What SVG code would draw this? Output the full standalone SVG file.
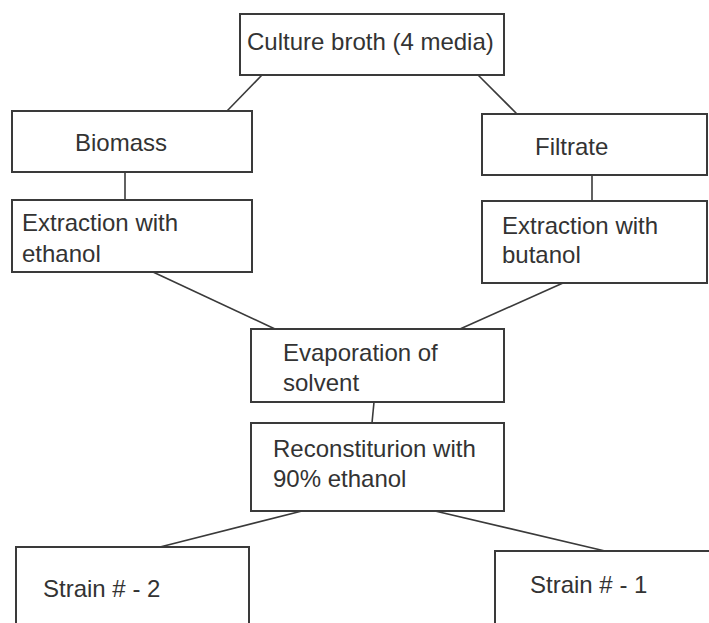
<svg xmlns="http://www.w3.org/2000/svg" width="709" height="623" viewBox="0 0 709 623">
<style>
.box{fill:#ffffff;stroke:#3a3a3a;stroke-width:2}
.lbl{font-family:"Liberation Sans",Arial,sans-serif;font-size:24px;fill:#333333}
.con line{stroke:#3a3a3a;stroke-width:1.6}
</style>
<rect width="709" height="623" fill="#ffffff"/>
<g id="connectors" class="con">
<line x1="262" y1="75" x2="227" y2="111"/>
<line x1="478" y1="75" x2="517" y2="114"/>
<line x1="125" y1="172" x2="125" y2="200"/>
<line x1="592" y1="175" x2="592" y2="201"/>
<line x1="153" y1="272" x2="275" y2="329"/>
<line x1="563" y1="283" x2="460" y2="329"/>
<line x1="374" y1="402" x2="372" y2="423"/>
<line x1="302" y1="511" x2="160" y2="547"/>
<line x1="435" y1="511" x2="605" y2="551"/>
</g>
<g id="culture">
<rect class="box" x="240" y="14" width="264" height="61"/>
<text class="lbl" x="247" y="50">Culture broth (4 media)</text>
</g>
<g id="biomass">
<rect class="box" x="12" y="111" width="240" height="61"/>
<text class="lbl" x="75" y="151">Biomass</text>
</g>
<g id="filtrate">
<rect class="box" x="482" y="114" width="225" height="61"/>
<text class="lbl" x="535" y="155">Filtrate</text>
</g>
<g id="ext-ethanol">
<rect class="box" x="12" y="200" width="240" height="72"/>
<text class="lbl" x="22" y="231">Extraction with</text>
<text class="lbl" x="22" y="262">ethanol</text>
</g>
<g id="ext-butanol">
<rect class="box" x="482" y="201" width="225" height="82"/>
<text class="lbl" x="502" y="234">Extraction with</text>
<text class="lbl" x="502" y="263">butanol</text>
</g>
<g id="evaporation">
<rect class="box" x="251" y="329" width="253" height="73"/>
<text class="lbl" x="283" y="361">Evaporation of</text>
<text class="lbl" x="283" y="391">solvent</text>
</g>
<g id="reconstitution">
<rect class="box" x="251" y="423" width="253" height="88"/>
<text class="lbl" x="273" y="457">Reconstiturion with</text>
<text class="lbl" x="273" y="487">90% ethanol</text>
</g>
<g id="strain2">
<rect class="box" x="16" y="547" width="233" height="90"/>
<text class="lbl" x="43" y="597">Strain # - 2</text>
</g>
<g id="strain1">
<rect class="box" x="495" y="551" width="230" height="90"/>
<text class="lbl" x="530" y="593">Strain # - 1</text>
</g>
</svg>
